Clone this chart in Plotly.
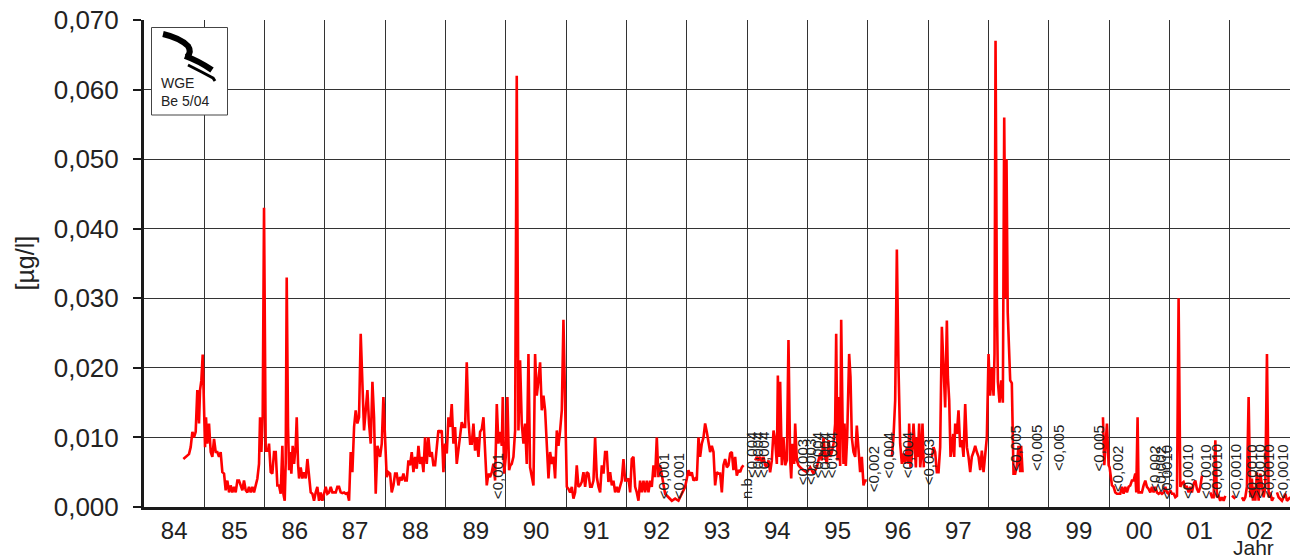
import plotly.graph_objects as go

# ---- data (year as 2-digit decimal, value in µg/l) ----
t_year = [
    84.652, 84.746, 84.774, 84.802, 84.829, 84.857, 84.884, 84.912, 84.929, 84.951, 84.973, 84.995,
    85.012, 85.028, 85.050, 85.078, 85.106, 85.133, 85.161, 85.189, 85.216, 85.244, 85.271, 85.299,
    85.327, 85.354, 85.382, 85.410, 85.437, 85.465, 85.493, 85.520, 85.548, 85.575, 85.603, 85.631,
    85.658, 85.686, 85.714, 85.741, 85.769, 85.797, 85.824, 85.852, 85.880, 85.907, 85.924, 85.946,
    85.968, 85.990, 86.018, 86.056, 86.073, 86.101, 86.128, 86.156, 86.184, 86.211, 86.239, 86.266,
    86.294, 86.311, 86.333, 86.349, 86.366, 86.388, 86.405, 86.421, 86.443, 86.465, 86.488, 86.515,
    86.532, 86.554, 86.571, 86.598, 86.626, 86.653, 86.681, 86.709, 86.736, 86.764, 86.792, 86.819,
    86.847, 86.874, 86.902, 86.930, 86.957, 86.985, 87.013, 87.040, 87.068, 87.096, 87.123, 87.151,
    87.179, 87.206, 87.234, 87.261, 87.289, 87.317, 87.344, 87.372, 87.400, 87.427, 87.455, 87.483,
    87.510, 87.538, 87.565, 87.593, 87.621, 87.648, 87.676, 87.704, 87.731, 87.759, 87.787, 87.814,
    87.842, 87.870, 87.914, 87.942, 87.969, 87.997, 88.024, 88.052, 88.080, 88.107, 88.135, 88.163,
    88.190, 88.218, 88.246, 88.273, 88.301, 88.329, 88.356, 88.384, 88.411, 88.439, 88.467, 88.494,
    88.522, 88.550, 88.577, 88.605, 88.633, 88.660, 88.688, 88.715, 88.743, 88.771, 88.798, 88.826,
    88.854, 88.881, 88.909, 88.937, 88.964, 88.992, 89.020, 89.047, 89.075, 89.102, 89.130, 89.158,
    89.185, 89.213, 89.241, 89.268, 89.296, 89.324, 89.351, 89.379, 89.407, 89.434, 89.462, 89.489,
    89.517, 89.545, 89.572, 89.600, 89.628, 89.655, 89.683, 89.710, 89.738, 89.766, 89.793, 89.821,
    89.849, 89.876, 89.904, 89.932, 89.948, 89.970, 89.998, 90.025, 90.053, 90.075, 90.097, 90.125,
    90.153, 90.180, 90.208, 90.235, 90.263, 90.291, 90.318, 90.346, 90.374, 90.401, 90.429, 90.457,
    90.484, 90.512, 90.540, 90.567, 90.595, 90.623, 90.650, 90.678, 90.706, 90.733, 90.761, 90.789,
    90.816, 90.844, 90.872, 90.899, 90.927, 90.954, 90.982, 91.010, 91.037, 91.065, 91.093, 91.120,
    91.148, 91.175, 91.203, 91.231, 91.258, 91.286, 91.314, 91.341, 91.369, 91.397, 91.424, 91.452,
    91.479, 91.507, 91.535, 91.562, 91.590, 91.618, 91.645, 91.673, 91.700, 91.728, 91.756, 91.783,
    91.811, 91.839, 91.866, 91.894, 91.921, 91.949, 91.977, 92.004, 92.032, 92.060, 92.087, 92.115,
    92.143, 92.170, 92.198, 92.225, 92.253, 92.281, 92.308, 92.336, 92.364, 92.391, 92.419, 92.447,
    92.474, 92.502, 92.529, 92.557, 92.585, 92.612, 92.640, 92.695, 92.751, 92.806, 92.861, 92.917,
    92.972, 93.000, 93.027, 93.055, 93.082, 93.110, 93.138, 93.165, 93.193, 93.220, 93.248, 93.276,
    93.303, 93.331, 93.359, 93.386, 93.414, 93.442, 93.469, 93.497, 93.525, 93.552, 93.580, 93.607,
    93.635, 93.663, 93.690, 93.718, 93.746, 93.773, 93.801, 93.828, 93.856, 93.884, 93.911, 93.939,
    94.040,
    94.133, 94.160, 94.188, 94.215, 94.243, 94.271, 94.298, 94.326, 94.354, 94.381, 94.409, 94.437,
    94.464, 94.492, 94.509, 94.531, 94.547, 94.575, 94.602, 94.630, 94.658, 94.685, 94.713, 94.730,
    94.752, 94.779, 94.796, 94.824, 94.851, 94.879, 94.934, 94.990, 95.045, 95.100, 95.155, 95.211,
    95.238, 95.266, 95.293, 95.321, 95.349, 95.376, 95.404, 95.432, 95.459, 95.476, 95.498, 95.514,
    95.542, 95.559, 95.581, 95.597, 95.614, 95.636, 95.658, 95.691, 95.713, 95.735, 95.763, 95.791,
    95.818, 95.846, 95.873, 95.901, 95.929, 95.956, 95.984,
    96.200,
    96.399, 96.426, 96.454, 96.482, 96.509, 96.537, 96.565, 96.592, 96.620, 96.648, 96.675, 96.686,
    96.708, 96.730, 96.758, 96.775, 96.797, 96.813, 96.830, 96.852, 96.869, 96.885, 96.907, 96.929,
    97.000,
    97.062, 97.090, 97.117, 97.145, 97.173, 97.200, 97.228, 97.256, 97.283, 97.311, 97.328, 97.350,
    97.372, 97.394, 97.416, 97.432, 97.449, 97.477, 97.504, 97.532, 97.560, 97.587, 97.615, 97.643,
    97.670, 97.698, 97.725, 97.753, 97.781, 97.808, 97.836, 97.864, 97.891, 97.919, 97.947, 97.974,
    98.002, 98.029, 98.057, 98.085, 98.101, 98.118, 98.140, 98.157, 98.184, 98.212, 98.239, 98.262,
    98.285, 98.300, 98.320, 98.340, 98.361, 98.388, 98.416, 98.444, 98.472, 98.499, 98.527, 98.543,
    98.566,
    99.300,
    99.899, 99.921, 99.965, 99.993, 100.009, 100.031, 100.048, 100.075, 100.103, 100.131, 100.158,
    100.186, 100.214, 100.241, 100.269, 100.297, 100.324, 100.352, 100.379, 100.407, 100.435, 100.451,
    100.473, 100.490, 100.518, 100.545, 100.573, 100.601, 100.628, 100.656, 100.684, 100.711, 100.739,
    100.767, 100.794, 100.822, 100.849, 100.877, 100.905, 100.932, 100.960, 100.988, 101.015, 101.043,
    101.071, 101.098, 101.126, 101.153, 101.181, 101.209, 101.236, 101.264, 101.291, 101.319, 101.347,
    101.374, 101.402, 101.430, 101.457, 101.485, 101.513, 101.540,
    101.610,
    101.679, 101.706, 101.734, 101.762, 101.789, 101.817, 101.844, 101.872, 101.900, 101.927,
    101.980,
    102.038, 102.065, 102.093,
    102.150,
    102.204, 102.231, 102.259, 102.286, 102.314, 102.342, 102.369, 102.386, 102.408, 102.425, 102.452,
    102.480, 102.508, 102.535, 102.563, 102.590, 102.618, 102.646, 102.673, 102.701, 102.729,
    102.755,
    102.784, 102.811, 102.867, 102.895, 102.922, 102.950, 103.005,
]

conc = [
    0.0069, 0.0076, 0.0086, 0.0108, 0.0100, 0.0108, 0.0168, 0.0120, 0.0168, 0.0182, 0.0219, 0.0158,
    0.0086, 0.0129, 0.0091, 0.0120, 0.0079, 0.0072, 0.0098, 0.0079, 0.0079, 0.0072, 0.0079, 0.0050,
    0.0048, 0.0024, 0.0038, 0.0021, 0.0031, 0.0021, 0.0029, 0.0021, 0.0038, 0.0038, 0.0031, 0.0024,
    0.0038, 0.0024, 0.0021, 0.0029, 0.0021, 0.0029, 0.0021, 0.0031, 0.0041, 0.0062, 0.0129, 0.0079,
    0.0129, 0.0430, 0.0081, 0.0081, 0.0091, 0.0050, 0.0048, 0.0079, 0.0079, 0.0031, 0.0031, 0.0019,
    0.0088, 0.0019, 0.0009, 0.0062, 0.0330, 0.0115, 0.0053, 0.0079, 0.0048, 0.0088, 0.0062, 0.0088,
    0.0129, 0.0062, 0.0041, 0.0057, 0.0041, 0.0050, 0.0041, 0.0069, 0.0048, 0.0021, 0.0019, 0.0009,
    0.0021, 0.0029, 0.0009, 0.0021, 0.0009, 0.0019, 0.0029, 0.0019, 0.0021, 0.0029, 0.0021, 0.0021,
    0.0021, 0.0029, 0.0029, 0.0021, 0.0020, 0.0021, 0.0019, 0.0020, 0.0009, 0.0079, 0.0050, 0.0115,
    0.0139, 0.0120, 0.0129, 0.0249, 0.0187, 0.0110, 0.0139, 0.0168, 0.0120, 0.0091, 0.0180, 0.0129,
    0.0019, 0.0088, 0.0072, 0.0091, 0.0158, 0.0100, 0.0043, 0.0050, 0.0048, 0.0021, 0.0031, 0.0048,
    0.0048, 0.0031, 0.0043, 0.0038, 0.0048, 0.0038, 0.0038, 0.0067, 0.0060, 0.0079, 0.0050, 0.0072,
    0.0055, 0.0088, 0.0062, 0.0072, 0.0050, 0.0100, 0.0062, 0.0100, 0.0072, 0.0079, 0.0060, 0.0060,
    0.0086, 0.0110, 0.0108, 0.0110, 0.0050, 0.0091, 0.0077, 0.0129, 0.0115, 0.0148, 0.0091, 0.0115,
    0.0062, 0.0084, 0.0110, 0.0122, 0.0115, 0.0115, 0.0208, 0.0125, 0.0091, 0.0091, 0.0120, 0.0081,
    0.0100, 0.0072, 0.0108, 0.0112, 0.0129, 0.0081, 0.0031, 0.0048, 0.0043, 0.0050, 0.0062, 0.0038,
    0.0148, 0.0091, 0.0108, 0.0088, 0.0158, 0.0048, 0.0072, 0.0158, 0.0053, 0.0060, 0.0062, 0.0072,
    0.0110, 0.0620, 0.0110, 0.0211, 0.0120, 0.0091, 0.0120, 0.0062, 0.0220, 0.0057, 0.0043, 0.0031,
    0.0220, 0.0160, 0.0182, 0.0208, 0.0139, 0.0160, 0.0139, 0.0091, 0.0041, 0.0079, 0.0062, 0.0072,
    0.0041, 0.0110, 0.0088, 0.0110, 0.0139, 0.0269, 0.0120, 0.0029, 0.0026, 0.0021, 0.0029, 0.0012,
    0.0021, 0.0060, 0.0029, 0.0031, 0.0036, 0.0050, 0.0029, 0.0050, 0.0048, 0.0029, 0.0029, 0.0038,
    0.0100, 0.0043, 0.0029, 0.0021, 0.0060, 0.0048, 0.0079, 0.0079, 0.0036, 0.0050, 0.0031, 0.0038,
    0.0021, 0.0029, 0.0021, 0.0029, 0.0038, 0.0069, 0.0038, 0.0038, 0.0041, 0.0021, 0.0069, 0.0072,
    0.0029, 0.0021, 0.0009, 0.0038, 0.0021, 0.0038, 0.0021, 0.0038, 0.0021, 0.0038, 0.0029, 0.0060,
    0.0043, 0.0100, 0.0043, 0.0060, 0.0048, 0.0036, 0.0019, 0.0014, 0.0009, 0.0012, 0.0009, 0.0019,
    0.0029, 0.0041, 0.0053, 0.0045, 0.0050, 0.0038, 0.0041, 0.0038, 0.0100, 0.0072, 0.0091, 0.0100,
    0.0120, 0.0108, 0.0091, 0.0079, 0.0088, 0.0079, 0.0031, 0.0050, 0.0048, 0.0048, 0.0021, 0.0060,
    0.0069, 0.0057, 0.0060, 0.0077, 0.0079, 0.0053, 0.0072, 0.0045, 0.0053, 0.0050, 0.0057, 0.0060,
    None,
    0.0067, 0.0072, 0.0067, 0.0072, 0.0065, 0.0072, 0.0060, 0.0057, 0.0067, 0.0050, 0.0067, 0.0110,
    0.0096, 0.0062, 0.0189, 0.0072, 0.0180, 0.0060, 0.0100, 0.0060, 0.0067, 0.0240, 0.0067, 0.0041,
    0.0091, 0.0062, 0.0120, 0.0067, 0.0060, 0.0057, 0.0053, 0.0050, 0.0057, 0.0048, 0.0057, 0.0077,
    0.0067, 0.0100, 0.0072, 0.0062, 0.0096, 0.0072, 0.0079, 0.0091, 0.0120, 0.0249, 0.0067, 0.0158,
    0.0059, 0.0269, 0.0129, 0.0062, 0.0120, 0.0059, 0.0100, 0.0220, 0.0187, 0.0100, 0.0079, 0.0072,
    0.0117, 0.0079, 0.0050, 0.0072, 0.0031, 0.0038, 0.0038,
    None,
    0.0072, 0.0100, 0.0153, 0.0370, 0.0201, 0.0091, 0.0062, 0.0077, 0.0062, 0.0086, 0.0062, 0.0120,
    0.0057, 0.0072, 0.0120, 0.0081, 0.0057, 0.0100, 0.0072, 0.0120, 0.0057, 0.0072, 0.0120, 0.0057,
    None,
    0.0072, 0.0086, 0.0079, 0.0050, 0.0050, 0.0086, 0.0259, 0.0201, 0.0143, 0.0268, 0.0187, 0.0153,
    0.0072, 0.0086, 0.0105, 0.0072, 0.0120, 0.0105, 0.0139, 0.0086, 0.0096, 0.0072, 0.0148, 0.0086,
    0.0072, 0.0050, 0.0072, 0.0079, 0.0088, 0.0079, 0.0072, 0.0053, 0.0081, 0.0050, 0.0074, 0.0100,
    0.0220, 0.0160, 0.0200, 0.0160, 0.0220, 0.0670, 0.0300, 0.0180, 0.0150, 0.0182, 0.0150, 0.0560,
    0.0300, 0.0500, 0.0280, 0.0220, 0.0182, 0.0178, 0.0048, 0.0048, 0.0060, 0.0088, 0.0050, 0.0088,
    0.0050,
    None,
    0.0129, 0.0060, 0.0120, 0.0060, 0.0057, 0.0043, 0.0031, 0.0029, 0.0021, 0.0019, 0.0019,
    0.0019, 0.0029, 0.0019, 0.0029, 0.0021, 0.0029, 0.0031, 0.0038, 0.0038, 0.0048, 0.0021,
    0.0129, 0.0021, 0.0021, 0.0021, 0.0031, 0.0038, 0.0029, 0.0026, 0.0021, 0.0029, 0.0021,
    0.0029, 0.0021, 0.0019, 0.0021, 0.0019, 0.0021, 0.0029, 0.0021, 0.0019, 0.0024, 0.0019,
    0.0019, 0.0014, 0.0016, 0.0300, 0.0029, 0.0034, 0.0036, 0.0029, 0.0029, 0.0021, 0.0029,
    0.0021, 0.0033, 0.0038, 0.0026, 0.0021, 0.0029, 0.0045,
    None,
    0.0021, 0.0014, 0.0014, 0.0096, 0.0014, 0.0016, 0.0009, 0.0014, 0.0009, 0.0016,
    None,
    0.0016, 0.0014, 0.0012,
    None,
    0.0014, 0.0009, 0.0014, 0.0029, 0.0158, 0.0014, 0.0041, 0.0009, 0.0029, 0.0009, 0.0050,
    0.0009, 0.0048, 0.0029, 0.0014, 0.0029, 0.0220, 0.0014, 0.0021, 0.0009, 0.0014,
    None,
    0.0021, 0.0014, 0.0009, 0.0014, 0.0019, 0.0009, 0.0014,
]

# "below detection limit" labels: position (year), text, limit value
lbl_x = [89.854, 92.607, 92.856, 93.990, 94.060, 94.160, 94.260,
         94.910, 95.040, 95.160, 95.280, 95.390,
         96.090, 96.340, 96.650, 97.000,
         98.444, 98.800, 99.150, 99.820,
         100.130, 100.740, 100.850, 100.960,
         101.300, 101.600, 101.790,
         102.090, 102.360, 102.490, 102.640, 102.875]
lbl_text = ["<0,001", "<0,001", "<0,001", "n.b.", "<0,004", "<0,004", "<0,004",
            "<0,003", "<0,003", "<0,004", "<0,004", "<0,004",
            "<0,002", "<0,004", "<0,004", "<0,003",
            "<0,005", "<0,005", "<0,005", "<0,005",
            "<0,002", "<0,002", "<0,002", "<0,0010",
            "<0,0010", "<0,0010", "<0,0010",
            "<0,0010", "<0,0010", "<0,0010", "<0,0010", "<0,0010"]
lbl_y = [0.001, 0.001, 0.001, 0.001, 0.004, 0.004, 0.004,
         0.003, 0.003, 0.004, 0.004, 0.004,
         0.002, 0.004, 0.004, 0.003,
         0.005, 0.005, 0.005, 0.005,
         0.002, 0.002, 0.002, 0.001,
         0.001, 0.001, 0.001,
         0.001, 0.001, 0.001, 0.001, 0.001]

year_tickvals = [84.5 + i for i in range(19)]
year_ticktext = ["84", "85", "86", "87", "88", "89", "90", "91", "92", "93",
                 "94", "95", "96", "97", "98", "99", "00", "01", "02"]
year_bounds = list(range(85, 103))

FONT = "Liberation Sans, Arial, sans-serif"
INK = "#222222"

fig = go.Figure()
fig.add_trace(go.Scatter(
    x=t_year, y=conc, mode="lines",
    line=dict(color="#ff0000", width=2.6),
    connectgaps=False, hoverinfo="skip", showlegend=False,
))

W, H = 1290, 558
ML, MR, MT, MB = 144, 0, 20, 51
PW, PH = W - ML - MR, H - MT - MB


def px(x):
    return (x - ML) / PW


def py(y):
    return (H - MB - y) / PH


annotations = []
for x, t, y in zip(lbl_x, lbl_text, lbl_y):
    annotations.append(dict(
        x=x, y=y, xref="x", yref="y", text=t, textangle=-90,
        xanchor="center", yanchor="bottom", showarrow=False,
        font=dict(family=FONT, size=15, color=INK), borderpad=0,
    ))

annotations.append(dict(
    x=0, y=0.5, xref="paper", yref="paper", text="[µg/l]", textangle=-90,
    xanchor="center", yanchor="middle", xshift=-120, showarrow=False,
    font=dict(family=FONT, size=25, color=INK),
))
annotations.append(dict(
    x=px(1253), y=0, xref="paper", yref="paper", text="Jahr",
    xanchor="center", yanchor="middle", yshift=-40, showarrow=False,
    font=dict(family=FONT, size=21, color=INK),
))
# logo texts
annotations.append(dict(
    x=px(159), y=py(83), xref="paper", yref="paper", text="WGE",
    xanchor="left", yanchor="middle", showarrow=False,
    font=dict(family=FONT, size=14, color=INK),
))
annotations.append(dict(
    x=px(159), y=py(101.5), xref="paper", yref="paper", text="Be 5/04",
    xanchor="left", yanchor="middle", showarrow=False,
    font=dict(family=FONT, size=14, color=INK),
))


def ppath(pts_cmd):
    out = []
    for tok in pts_cmd:
        if isinstance(tok, str):
            out.append(tok)
        else:
            out.append(f"{px(tok[0]):.5f},{py(tok[1]):.5f}")
    return " ".join(out)


shapes = [
    dict(type="rect", xref="paper", yref="paper",
         x0=px(151.5), x1=px(227.5), y0=py(115), y1=py(27.5),
         line=dict(color="#444444", width=1), fillcolor="white", layer="above"),
    # stylised logo mark
    dict(type="path", xref="paper", yref="paper",
         path=ppath(["M", (163, 34), "Q", (180, 38), (188, 46), "Q", (192, 52), (187, 57)]),
         line=dict(color="black", width=6), layer="above"),
    dict(type="path", xref="paper", yref="paper",
         path=ppath(["M", (185, 56), "Q", (199, 61), (212, 70)]),
         line=dict(color="black", width=6), layer="above"),
    dict(type="path", xref="paper", yref="paper",
         path=ppath(["M", (188, 65), "Q", (202, 72), (213, 78), "L", (215, 81)]),
         line=dict(color="black", width=3), layer="above"),
]

fig.update_layout(
    width=W, height=H,
    margin=dict(l=ML, r=MR, t=MT, b=MB, pad=0),
    paper_bgcolor="white", plot_bgcolor="white",
    separators=",.",
    font=dict(family=FONT, color=INK),
    annotations=annotations, shapes=shapes,
    xaxis=dict(
        range=[84, 103], tickmode="array", tickvals=year_tickvals, ticktext=year_ticktext,
        showgrid=False, zeroline=False, ticks="",
        tickfont=dict(family=FONT, size=24, color=INK),
        showline=True, linecolor="#1a1a1a", linewidth=3,
        minor=dict(tickmode="array", tickvals=year_bounds, showgrid=True,
                   gridcolor="#333333", gridwidth=1, ticks=""),
    ),
    yaxis=dict(
        range=[0, 0.07], tickmode="linear", tick0=0, dtick=0.01, tickformat=".3f",
        showgrid=True, gridcolor="#333333", gridwidth=1, zeroline=False,
        ticks="outside", ticklen=8, tickwidth=1.5, tickcolor="#1a1a1a",
        tickfont=dict(family=FONT, size=26, color=INK), ticklabelstandoff=9,
        showline=True, linecolor="#1a1a1a", linewidth=3,
    ),
)

fig.write_html("out.html")
